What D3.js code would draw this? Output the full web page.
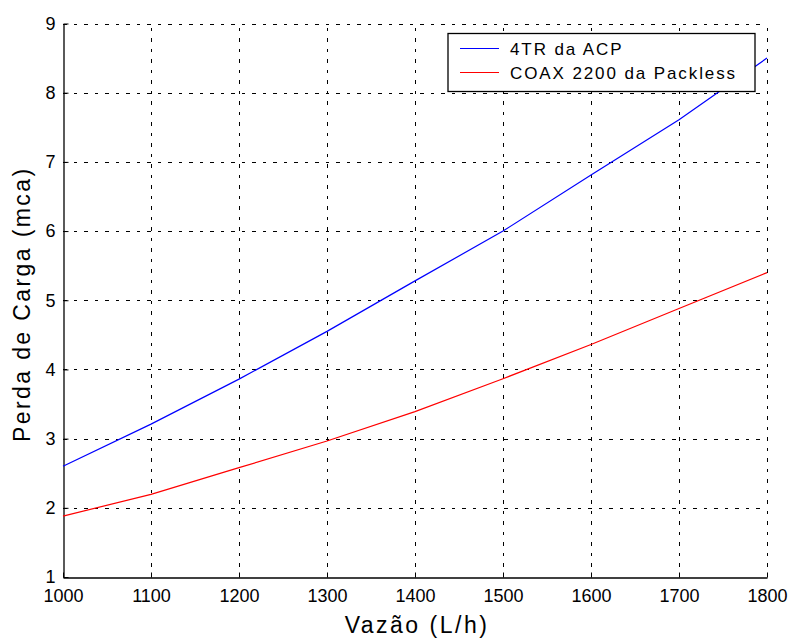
<!DOCTYPE html>
<html>
<head>
<meta charset="utf-8">
<script src="https://cdn.jsdelivr.net/npm/d3@7"></script>
<style>
  html, body { margin: 0; padding: 0; background: #fff; }
  svg { display: block; font-family: "Liberation Sans", Arial, sans-serif; }
</style>
</head>
<body>
<svg id="chart" width="790" height="639"></svg>
<script>
// Flow rate (L/h) and head loss (mca) for the two heat exchangers
const vazao = [1000, 1100, 1200, 1300, 1400, 1500, 1600, 1700, 1800];
const perdaACP = [2.60, 3.21, 3.86, 4.55, 5.28, 6.00, 6.81, 7.61, 8.50];
const perdaCoax = [1.88, 2.195, 2.58, 2.965, 3.39, 3.866, 4.36, 4.88, 5.40];

const seriesNames = ["4TR da ACP", "COAX 2200 da Packless"];
const seriesColors = ["#0000ff", "#ff0000"];

const xTicks = [1000, 1100, 1200, 1300, 1400, 1500, 1600, 1700, 1800];
const yTicks = [1, 2, 3, 4, 5, 6, 7, 8, 9];

const xLabel = "Vazão (L/h)";
const yLabel = "Perda de Carga (mca)";

const svg = d3.select("#chart");
const margin = { left: 63, right: 23, top: 23.5, bottom: 62 };
const W = 790, H = 639;

const x = d3.scaleLinear().domain([1000, 1800]).range([margin.left, W - margin.right]);
const y = d3.scaleLinear().domain([1, 9]).range([H - margin.bottom, margin.top]);

// dotted grid
const grid = svg.append("g").attr("stroke", "#000").attr("stroke-width", 1)
  .attr("stroke-dasharray", "3.5,7").attr("shape-rendering", "crispEdges");
grid.selectAll("line.v").data(xTicks.slice(1)).join("line")
  .attr("x1", d => Math.round(x(d)) + 0.5).attr("x2", d => Math.round(x(d)) + 0.5)
  .attr("y1", y(1)).attr("y2", y(9));
grid.selectAll("line.h").data(yTicks.slice(1)).join("line")
  .attr("x1", x(1000)).attr("x2", x(1800))
  .attr("y1", d => Math.round(y(d)) + 0.5).attr("y2", d => Math.round(y(d)) + 0.5);

// axes (ticks point inward)
const xAxis = d3.axisBottom(x).tickValues(xTicks).tickFormat(d3.format("d"))
  .tickSizeInner(-5).tickSizeOuter(0).tickPadding(12);
const yAxis = d3.axisLeft(y).tickValues(yTicks).tickFormat(d3.format("d"))
  .tickSizeInner(-5).tickSizeOuter(0).tickPadding(8);

const gx = svg.append("g").attr("transform", `translate(0,${Math.round(y(1)) + 0.5})`).call(xAxis);
const gy = svg.append("g").attr("transform", `translate(${Math.round(x(1000)) + 0.5},0)`).call(yAxis);
[gx, gy].forEach(g => {
  g.select(".domain").attr("stroke", "#000").attr("stroke-width", 1.3);
  g.selectAll(".tick line").attr("stroke", "#000").attr("stroke-width", 1);
  g.selectAll(".tick text").attr("fill", "#000")
    .style("font-family", '"Liberation Sans", Arial, sans-serif').style("font-size", "18px");
});
gx.selectAll(".tick text").attr("dy", "0.71em");

// curves
const line = d3.line().x(d => x(d[0])).y(d => y(d[1]));
[perdaACP, perdaCoax].forEach((vals, i) => {
  svg.append("path")
    .datum(vazao.map((v, j) => [v, vals[j]]))
    .attr("fill", "none")
    .attr("stroke", seriesColors[i])
    .attr("stroke-width", 1.2)
    .attr("d", line);
});

// axis titles
svg.append("text")
  .attr("x", (x(1000) + x(1800)) / 2 + 2).attr("y", 633)
  .attr("text-anchor", "middle")
  .style("font-size", "23px").style("letter-spacing", "2.5px")
  .text(xLabel);
svg.append("text")
  .attr("transform", `translate(30,${(y(1) + y(9)) / 2 + 4}) rotate(-90)`)
  .attr("text-anchor", "middle")
  .style("font-size", "23px").style("letter-spacing", "2.4px")
  .text(yLabel);

// legend
const lg = svg.append("g");
lg.append("rect").attr("x", 448).attr("y", 33.5).attr("width", 307).attr("height", 58)
  .attr("fill", "#fff").attr("stroke", "#000").attr("stroke-width", 1.3);
seriesNames.forEach((name, i) => {
  const cy = 48.5 + i * 24;
  lg.append("line").attr("x1", 460).attr("x2", 499).attr("y1", cy).attr("y2", cy)
    .attr("stroke", seriesColors[i]).attr("stroke-width", 1.2);
  lg.append("text").attr("x", 510).attr("y", cy).attr("dy", "0.36em")
    .style("font-size", "17px").style("letter-spacing", "1.9px")
    .text(name);
});
</script>
</body>
</html>
